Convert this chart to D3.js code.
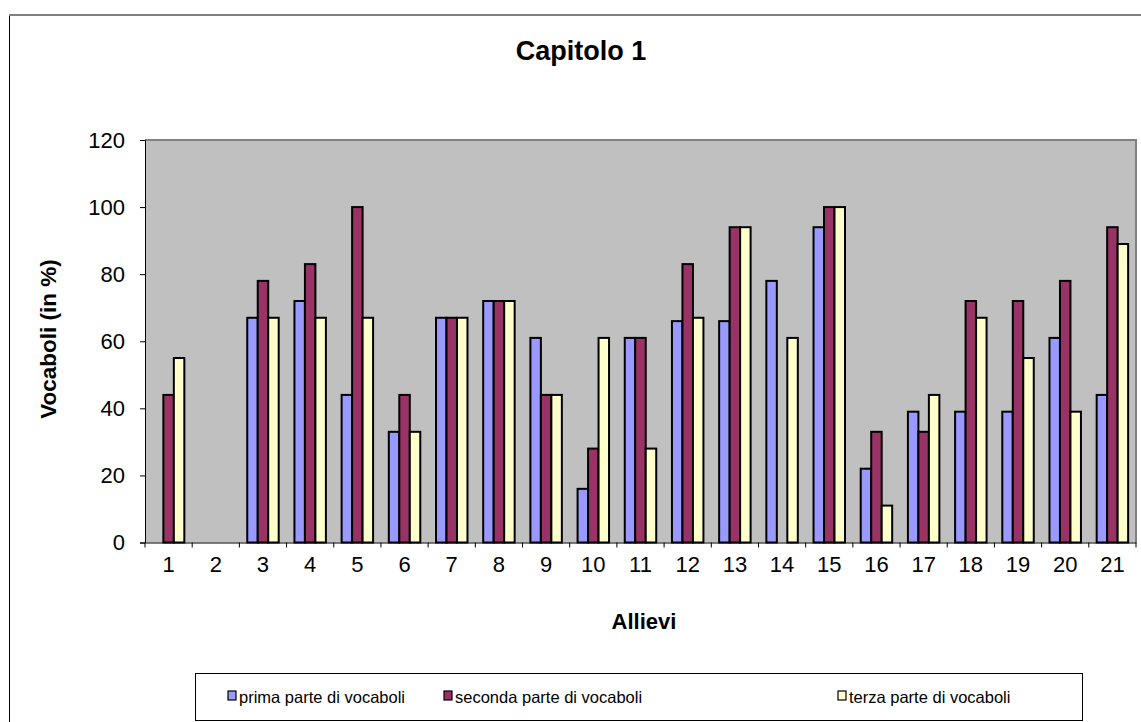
<!DOCTYPE html>
<html>
<head>
<meta charset="utf-8">
<script src="https://cdn.jsdelivr.net/npm/d3@7"></script>
<style>
  body { margin: 0; background: #fff; }
  svg { font-family: "Liberation Sans", Arial, sans-serif; }
</style>
</head>
<body>
<div id="chart"></div>
<script>
// data
const allievi = ["1","2","3","4","5","6","7","8","9","10","11","12","13","14","15","16","17","18","19","20","21"];
const prima   = [0, 0, 67, 72, 44, 33, 67, 72, 61, 16, 61, 66, 66, 78, 94, 22, 39, 39, 39, 61, 44];
const seconda = [44, 0, 78, 83, 100, 44, 67, 72, 44, 28, 61, 83, 94, 0, 100, 33, 33, 72, 72, 78, 94];
const terza   = [55, 0, 67, 67, 67, 33, 67, 72, 44, 61, 28, 67, 94, 61, 100, 11, 44, 67, 55, 39, 89];
const seriesNames = ["prima parte di vocaboli", "seconda parte di vocaboli", "terza parte di vocaboli"];
const colors = ["#9999FF", "#993366", "#FFFFCC"];
const yTicks = [0, 20, 40, 60, 80, 100, 120];

drawChart("#chart");

function drawChart(id) {
    const W = 1141, H = 722;
    const plot = {left: 145, right: 1136, top: 140, bottom: 542.5};

    const svg = d3.select(id).append("svg")
        .attr("width", W)
        .attr("height", H);

    // outer chart frame
    svg.append("rect")
        .attr("x", 9.5).attr("y", 15.5)
        .attr("width", 1160).attr("height", 760)
        .attr("fill", "#fff")
        .attr("stroke", "#000");
    svg.append("line")
        .attr("x1", 9).attr("x2", W)
        .attr("y1", 15).attr("y2", 15)
        .attr("stroke", "#808080").attr("stroke-width", 2);

    // plot area
    svg.append("rect")
        .attr("x", plot.left).attr("y", plot.top)
        .attr("width", plot.right - plot.left).attr("height", plot.bottom - plot.top)
        .attr("fill", "#C0C0C0");
    svg.append("path")
        .attr("d", `M${plot.left},${plot.top}H${plot.right}V${plot.bottom}`)
        .attr("fill", "none")
        .attr("stroke", "#808080").attr("stroke-width", 2);

    const x0 = d3.scaleBand()
        .domain(allievi)
        .range([plot.left, plot.right])
        .padding(0);

    const x1 = d3.scaleBand()
        .domain(d3.range(3))
        .range([0, x0.bandwidth()])
        .paddingInner(0)
        .paddingOuter(0.75);

    const y = d3.scaleLinear()
        .domain([0, 120])
        .range([plot.bottom, plot.top]);

    const table = allievi.map((a, i) => ({a, vals: [prima[i], seconda[i], terza[i]]}));

    // bars
    svg.append("g")
        .selectAll("g")
        .data(table)
        .join("g")
        .attr("transform", d => `translate(${x0(d.a)},0)`)
        .selectAll("rect")
        .data(d => d.vals.map((v, s) => ({v, s})).filter(e => e.v > 0))
        .join("rect")
        .attr("x", e => x1(e.s))
        .attr("y", e => y(e.v))
        .attr("width", x1.bandwidth())
        .attr("height", e => y(0) - y(e.v))
        .attr("fill", e => colors[e.s])
        .attr("stroke", "#000")
        .attr("stroke-width", 2);

    // y axis
    const yAxis = svg.append("g")
        .attr("transform", `translate(${plot.left},0)`)
        .call(d3.axisLeft(y).tickValues(yTicks).tickSize(5).tickPadding(15));
    yAxis.select(".domain").attr("stroke", "#000");
    yAxis.selectAll("line").attr("stroke", "#000");
    yAxis.selectAll("text")
        .attr("font-size", 22)
        .attr("fill", "#000")
        .attr("font-family", "'Liberation Sans', Arial, sans-serif");

    // x axis with ticks on band boundaries
    const xAxis = svg.append("g")
        .attr("transform", `translate(0,${plot.bottom})`)
        .call(d3.axisBottom(x0).tickSize(0).tickPadding(14));
    xAxis.select(".domain").attr("stroke", "#000");
    xAxis.selectAll("text")
        .attr("font-size", 22)
        .attr("fill", "#000")
        .attr("font-family", "'Liberation Sans', Arial, sans-serif");
    svg.append("g")
        .selectAll("line")
        .data(allievi.concat(["end"]))
        .join("line")
        .attr("x1", (d, i) => plot.left + i * x0.step())
        .attr("x2", (d, i) => plot.left + i * x0.step())
        .attr("y1", plot.bottom)
        .attr("y2", plot.bottom + 5)
        .attr("stroke", "#000");

    // titles
    svg.append("text")
        .attr("x", 581).attr("y", 60)
        .attr("text-anchor", "middle")
        .attr("font-weight", "bold")
        .attr("font-size", 27)
        .text("Capitolo 1");

    svg.append("text")
        .attr("x", 644).attr("y", 629)
        .attr("text-anchor", "middle")
        .attr("font-weight", "bold")
        .attr("font-size", 22)
        .text("Allievi");

    svg.append("text")
        .attr("transform", "translate(56,339) rotate(-90)")
        .attr("text-anchor", "middle")
        .attr("font-weight", "bold")
        .attr("font-size", 22.5)
        .text("Vocaboli (in %)");

    // legend
    svg.append("rect")
        .attr("x", 195.5).attr("y", 673.5)
        .attr("width", 887).attr("height", 47)
        .attr("fill", "#fff")
        .attr("stroke", "#000");

    const legendX = [228, 444, 838];
    const leg = svg.append("g")
        .selectAll("g")
        .data(seriesNames)
        .join("g")
        .attr("transform", (d, i) => `translate(${legendX[i]},0)`);
    leg.append("rect")
        .attr("x", 0).attr("y", 691)
        .attr("width", 8).attr("height", 9)
        .attr("fill", (d, i) => colors[i])
        .attr("stroke", "#000")
        .attr("stroke-width", 1.2);
    leg.append("text")
        .attr("x", 11).attr("y", 703)
        .attr("font-size", 16.5)
        .text(d => d);
}
</script>
</body>
</html>
